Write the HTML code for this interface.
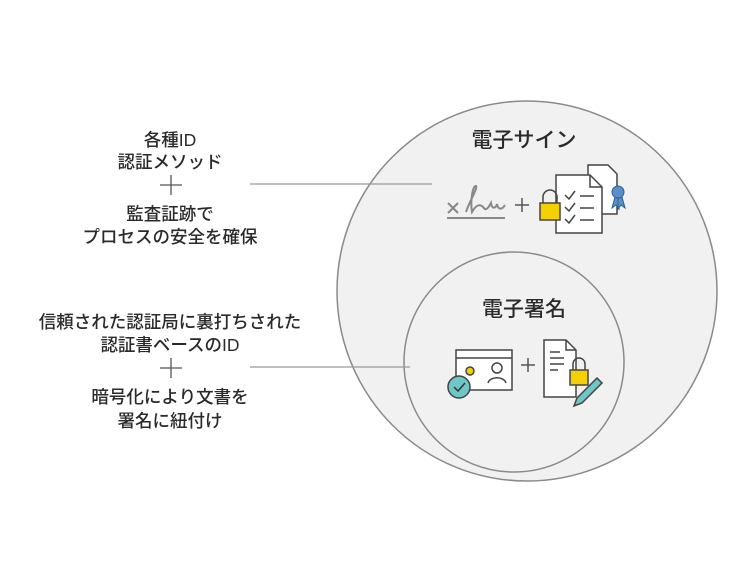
<!DOCTYPE html>
<html><head><meta charset="utf-8"><style>
html,body{margin:0;padding:0;background:#fff;}
svg{display:block}
text{font-family:"Liberation Sans","Noto Sans CJK JP",sans-serif;fill:#2a2a2a;}
</style></head><body>
<svg width="750" height="563" viewBox="0 0 750 563" xmlns="http://www.w3.org/2000/svg">
<circle cx="527" cy="291" r="190" fill="#f1f1f1" stroke="#8a8a8a" stroke-width="1.5"/>
<circle cx="514" cy="362" r="110" fill="#f1f1f1" stroke="#8a8a8a" stroke-width="1.5"/>
<line x1="250" y1="184" x2="432" y2="184" stroke="#999" stroke-width="1.3"/>
<line x1="250" y1="367" x2="410" y2="367" stroke="#999" stroke-width="1.3"/>
<g font-size="17.5" text-anchor="middle" style="font-weight:500">
<text x="170" y="146">各種ID</text>
<text x="170" y="168">認証メソッド</text>
<text x="170" y="220">監査証跡で</text>
<text x="170" y="243">プロセスの安全を確保</text>
<text x="170" y="328">信頼された認証局に裏打ちされた</text>
<text x="170" y="351">認証書ベースのID</text>
<text x="170" y="403">暗号化により文書を</text>
<text x="170" y="427">署名に紐付け</text>
</g>
<g stroke="#555" stroke-width="1.3">
<line x1="160" y1="185" x2="182" y2="185"/><line x1="171" y1="175" x2="171" y2="195"/>
<line x1="160" y1="368" x2="182" y2="368"/><line x1="171" y1="358" x2="171" y2="378"/>
</g>
<g font-size="21" text-anchor="middle">
<text x="524" y="147" style="font-weight:500">電子サイン</text>
<text x="524" y="316" style="font-weight:500">電子署名</text>
</g>
<!-- signature icon -->
<g stroke="#888" stroke-width="2" fill="none">
<line x1="448" y1="203" x2="458" y2="213"/><line x1="458" y1="203" x2="448" y2="213"/>
<path d="M466 212 C470 200 478 188 476 186 C473 185 470 200 472 212 C476 205 480 203 484 208 C486 212 490 205 491 203 C492 210 496 208 497 204 C498 210 502 210 505 205"/>
<line x1="447" y1="218" x2="505" y2="218"/>
</g>
<g stroke="#555" stroke-width="1.5">
<line x1="515" y1="205" x2="529" y2="205"/><line x1="522" y1="198" x2="522" y2="212"/>
<line x1="521" y1="365" x2="535" y2="365"/><line x1="528" y1="358" x2="528" y2="372"/>
</g>
<g stroke="#444" stroke-width="1.5" fill="#fff">
<path d="M588 165 h20 l9 9 v40 h-29 z"/>
<path d="M556 175 h34 l12 12 v46 h-46 z"/>
<path d="M590 175 v12 h12" fill="none"/>
<polyline points="565,195 569,199 575,191" fill="none"/><line x1="580" y1="196" x2="594" y2="196"/>
<polyline points="565,207 569,211 575,203" fill="none"/><line x1="580" y1="208" x2="594" y2="208"/>
<polyline points="565,219 569,223 575,215" fill="none"/><line x1="580" y1="220" x2="594" y2="220"/>
<path d="M543 203 v-6 a7 7 0 0 1 14 0 v6" fill="none"/>
<rect x="540" y="203" width="20" height="17" fill="#f5d000"/>
</g>
<g fill="#5a8fc9" stroke="#2d5f8a" stroke-width="1">
<path d="M615 197 l-3 11 l4 -3 l3 4 v-12z"/><path d="M622 197 l3 11 l-4 -3 l-3 4 v-12z"/>
<circle cx="618" cy="192" r="6"/>
</g>
<g stroke="#444" stroke-width="1.5">
<rect x="456" y="350" width="56" height="40" fill="#fff"/>
<line x1="456" y1="358" x2="512" y2="358"/>
<circle cx="470" cy="371" r="4" fill="#f5d000"/>
<circle cx="497" cy="368" r="5" fill="none"/>
<path d="M488 383 c2-7 16-7 18 0" fill="none"/>
<circle cx="459" cy="387" r="11" fill="#6ec6c6"/>
<polyline points="454,387 458,391 465,383" fill="none" stroke="#333"/>
</g>
<g stroke="#444" stroke-width="1.5" fill="#fff">
<path d="M544 340 h22 l10 10 v47 h-32 z"/>
<path d="M566 340 v10 h10" fill="none"/>
<line x1="550" y1="352" x2="560" y2="352"/><line x1="550" y1="358" x2="564" y2="358"/><line x1="550" y1="364" x2="564" y2="364"/><line x1="550" y1="370" x2="558" y2="370"/>
<path d="M573 370 v-6 a6 6 0 0 1 12 0 v6" fill="none"/>
<rect x="570" y="370" width="18" height="15" fill="#f5d000"/>
<path d="M597 378 l5 5 l-20 20 l-8 3 l3 -8 z" fill="#6ec6c6"/>
</g>
</svg>
</body></html>
